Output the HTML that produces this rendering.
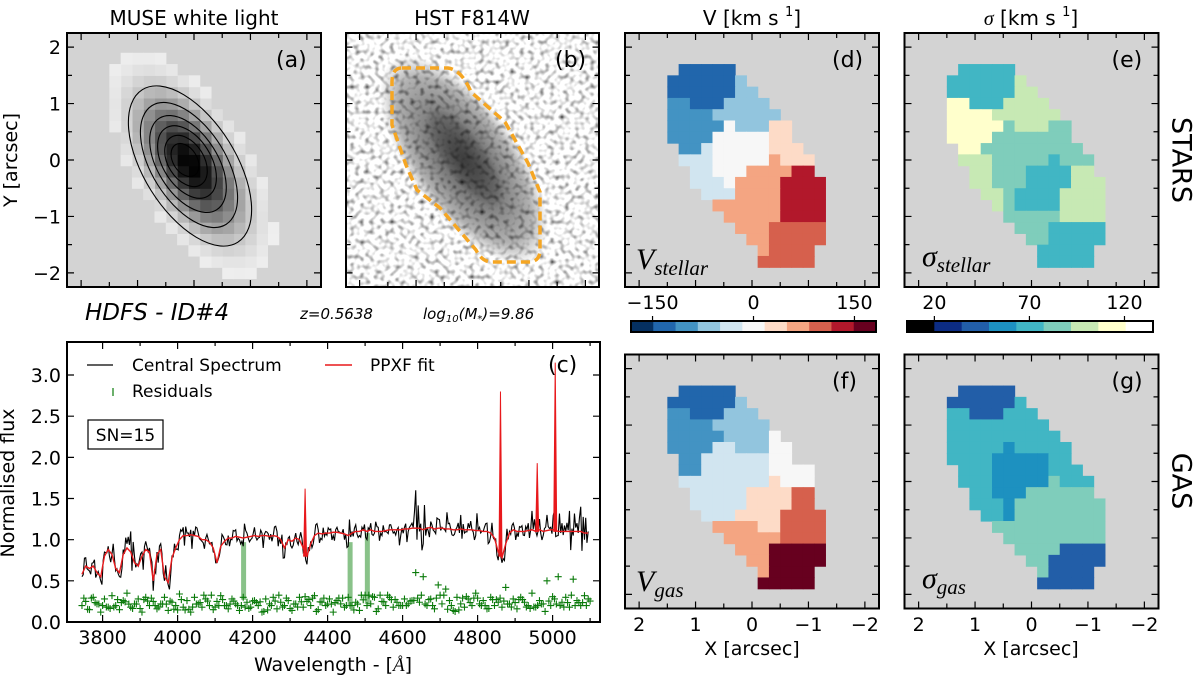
<!DOCTYPE html>
<html><head><meta charset="utf-8"><title>HDFS ID#4 kinematics</title>
<style>
html,body{margin:0;padding:0;background:#fff;}
svg{display:block;font-family:"DejaVu Sans","Liberation Sans",sans-serif;}
</style></head>
<body>
<svg id="fig" width="1200" height="680" viewBox="0 0 1200 680" xmlns="http://www.w3.org/2000/svg">
<defs>
  <filter id="hstnoise" x="0" y="0" width="1" height="1">
    <feTurbulence type="fractalNoise" baseFrequency="0.2" numOctaves="1" seed="7"/>
    <feColorMatrix type="matrix" values="2.4 0 0 0 -0.3  2.4 0 0 0 -0.3  2.4 0 0 0 -0.3  0 0 0 0 1"/>
  </filter>
  <radialGradient id="galgrad" cx="0.5" cy="0.5" r="0.5">
    <stop offset="0" stop-color="#000" stop-opacity="0.65"/>
    <stop offset="0.45" stop-color="#000" stop-opacity="0.5"/>
    <stop offset="0.8" stop-color="#000" stop-opacity="0.3"/>
    <stop offset="1" stop-color="#000" stop-opacity="0"/>
  </radialGradient>
  <clipPath id="clipB"><rect x="346" y="33" width="253" height="254"/></clipPath>
  <clipPath id="clipC"><rect x="67" y="342" width="533" height="280"/></clipPath>
</defs>

<text x="194" y="25" font-size="20" text-anchor="middle">MUSE white light</text>
<text x="472" y="25" font-size="20" text-anchor="middle">HST F814W</text>
<text x="752" y="25" font-size="20" text-anchor="middle">V [km s  <tspan font-size="13" dy="-9">1</tspan><tspan dy="9">]</tspan></text>
<text x="1031" y="25" font-size="20" text-anchor="middle"><tspan font-family="Liberation Serif,serif" font-style="italic">σ</tspan> [km s  <tspan font-size="13" dy="-9">1</tspan><tspan dy="9">]</tspan></text>
<text x="17" y="160" font-size="19" text-anchor="middle" transform="rotate(-90 17 160)">Y [arcsec]</text>
<text x="85" y="320" font-size="23" font-style="italic">HDFS - ID#4</text>
<text x="300" y="319" font-size="15" font-style="italic">z=0.5638</text>
<text x="423" y="319" font-size="15" font-style="italic">log<tspan font-size="10" dy="3">10</tspan><tspan dy="-3">(M</tspan><tspan font-size="10" dy="3">*</tspan><tspan dy="-3">)=9.86</tspan></text>
<text x="1180" y="160" font-size="27" text-anchor="middle" transform="rotate(90 1180 160)" dominant-baseline="middle">STARS</text>
<text x="1180" y="481" font-size="27" text-anchor="middle" transform="rotate(90 1180 481)" dominant-baseline="middle">GAS</text>
<text x="14" y="483" font-size="19" text-anchor="middle" transform="rotate(-90 14 483)">Normalised flux</text>
<text x="333" y="671" font-size="19" text-anchor="middle">Wavelength - [<tspan font-family="Liberation Serif,serif" font-style="italic">Å</tspan>]</text>
<text x="752" y="655" font-size="19" text-anchor="middle">X [arcsec]</text>
<text x="1031" y="655" font-size="19" text-anchor="middle">X [arcsec]</text>
<g id="layer"></g>
</svg>
<script>
// ---------- data ----------
const waveStart = 3745, waveStep = 10;
const specFlux = [0.55,0.78,0.62,0.72,0.58,0.5,0.85,0.92,0.82,0.62,0.55,0.88,0.95,1.1,0.8,0.68,0.85,0.98,0.9,0.38,0.85,0.95,0.5,0.45,0.8,0.88,1.05,1.15,1.08,1.12,1.05,1.08,0.98,1.02,0.95,0.85,0.72,0.9,1.0,1.05,1.0,1.12,1.0,0.92,1.08,1.0,1.15,1.02,1.08,1.1,1.0,1.05,1.1,0.95,0.78,1.02,0.9,1.08,1.02,0.85,0.7,0.98,1.05,1.12,1.0,1.08,1.12,1.05,1.15,1.08,1.0,0.92,1.1,1.18,1.05,1.12,1.0,1.2,1.08,1.15,1.05,1.1,1.18,1.08,1.12,1.05,1.15,1.1,1.2,1.6,1.1,0.95,1.15,1.22,1.1,1.25,1.15,1.1,1.2,1.05,1.15,1.3,1.08,1.2,1.12,1.05,1.15,1.1,1.2,1.05,1.0,0.75,0.72,0.95,1.1,1.2,1.08,1.15,1.05,1.2,1.35,1.1,1.25,1.05,1.3,1.15,1.35,1.05,1.2,1.1,1.35,1.05,1.2,1.4,1.0,1.1];
const fitFlux = [0.58,0.68,0.65,0.68,0.6,0.55,0.8,0.88,0.82,0.65,0.6,0.82,0.9,0.85,0.72,0.68,0.8,0.88,0.85,0.5,0.82,0.88,0.55,0.48,0.78,0.9,1.0,1.05,1.05,1.06,1.05,1.04,1.0,1.0,0.97,0.9,0.72,0.92,0.98,1.02,1.02,1.04,1.03,1.02,1.03,1.04,1.05,1.04,1.05,1.05,1.04,1.05,1.04,1.0,0.9,1.0,0.98,1.02,1.0,0.9,0.8,0.95,1.05,1.08,1.07,1.08,1.08,1.09,1.09,1.08,1.07,1.05,1.08,1.1,1.1,1.12,1.1,1.12,1.1,1.1,1.1,1.11,1.12,1.12,1.12,1.12,1.13,1.13,1.14,1.14,1.14,1.12,1.14,1.15,1.13,1.14,1.14,1.13,1.13,1.12,1.12,1.13,1.12,1.12,1.12,1.11,1.11,1.1,1.1,1.08,1.02,0.85,0.78,0.95,1.08,1.12,1.1,1.1,1.1,1.11,1.12,1.1,1.12,1.1,1.11,1.12,1.12,1.1,1.1,1.1,1.1,1.1,1.1,1.1,1.08,1.08];
const residuals = [0.2,0.25,0.15,0.3,0.22,0.12,0.28,0.18,0.32,0.2,0.15,0.26,0.35,0.18,0.22,0.28,0.12,0.3,0.2,0.25,0.16,0.22,0.3,0.14,0.24,0.2,0.34,0.18,0.26,0.12,0.3,0.22,0.18,0.28,0.2,0.15,0.25,0.32,0.2,0.16,0.28,0.22,0.14,0.3,0.24,0.18,0.26,0.2,0.12,0.28,0.22,0.3,0.16,0.24,0.2,0.26,0.14,0.22,0.3,0.18,0.25,0.2,0.32,0.15,0.24,0.2,0.28,0.12,0.26,0.22,0.18,0.3,0.2,0.24,0.14,0.27,0.2,0.22,0.3,0.16,0.25,0.2,0.3,0.18,0.24,0.2,0.28,0.22,0.26,0.6,0.24,0.55,0.2,0.28,0.16,0.45,0.22,0.4,0.26,0.14,0.3,0.22,0.18,0.28,0.2,0.35,0.22,0.26,0.16,0.3,0.2,0.24,0.18,0.42,0.22,0.28,0.16,0.3,0.24,0.2,0.35,0.18,0.26,0.22,0.5,0.2,0.28,0.55,0.24,0.3,0.18,0.52,0.26,0.2,0.32,0.28];
const emissionWave = [4340, 4861, 4959, 5007];
const emissionPeak = [1.62, 2.8, 1.93, 3.15];
const emissionBase = [0.8, 0.8, 1.1, 1.1];
const maskedWave = [4176, 4460, 4506];
const maskedTop = [0.97, 0.97, 1.08];
const maskedBottom = [0.27, 0.2, 0.22];
const xTickLabels = [3800,4000,4200,4400,4600,4800,5000];
const yTickLabels = [0.0,0.5,1.0,1.5,2.0,2.5,3.0];
const velTickLabels = [-150, 0, 150];
const sigTickLabels = [20, 70, 120];
const velColors = ['#053061','#2166ac','#4393c3','#92c5de','#d1e5f0','#f7f7f7','#fddbc7','#f4a582','#d6604d','#b2182b','#67001f'];
const sigColors = ['#000000','#0c2c84','#225ea8','#1d91c0','#41b6c4','#7fcdbb','#c7e9b4','#ffffcc','#ffffff'];
const velCode = {A:1,B:2,C:3,D:4,W:5,P:6,S:7,R:8,K:9,M:10};
const sigCode = {A:2,U:3,T:4,G:5,L:6,Y:7};
const stellarVelGrid = [".AAAAA........","AAAAAAC.......","AAAAAACC......","BBAAACCCC.....","BBBBCCCCCC....","BBBBBWCCCPP...","BBBBWWWWWPP...",".BBDWWWWWPPP..",".DDDWWWWWSPPP.","..DDWWWSSSSKK.","..DDDWSSSSKKKK","...DDDSSSSKKKK","....SSSSSSKKKK",".....SSSSSKKKK","......SSSRRRRR",".......SSRRRRR","........SRRRR.","........RRRRR."];
const gasVelGrid = [".AAAAA........","AAAAAAC.......","BBAAACCC......","BBBBCCCCC.....","BBBBBCCCCW....","BBBBDDCCCWW...",".BBDDDDDDWW...",".BBDDDDDDWWWW.",".DDDDDDDDPWWW.","..DDDDDPPPPRR.","..DDDDDPPPPRR.","...DDDPPPPRRRR","....SSSSPPRRRR",".....SSSSSRRRR","......SSSMMMMM",".......SSMMMMM","........SMMMM.","........MMMMM."];
const stellarSigGrid = [".TTTTT........","TTTTTTL.......","TTTTTTLL......","YYTTTLLLL.....","YYYYLLLLLL....","YYYYYGLLLGG...","YYYYGGGGGGG...",".YYGGGGGGGGG..",".LLLGGGGGTGGG.","..LLGGGTTTTLL.","..LLGGGTTTTLLL","...LLGTTTTLLLL","....LGTTTTLLLL",".....GGGGGLLLL","......GGGTTTTT",".......GGTTTTT","........TTTTT.","........TTTTT."];
const gasSigGrid = [".AAAAA........","AAAAAAT.......","TTAAATTT......","TTTTTTTTT.....","TTTTTTTTTT....","TTTTTUTTTTT...","TTTTUUUUUTT...",".TTTUUUUUTTT..",".TTTUUUUUGTTT.","..TTUUUGGGGGG.","..TTTUGGGGGGGG","...TTUGGGGGGGG","....GGGGGGGGGG",".....GGGGGGGGG","......GGGGAAAA",".......GGAAAAA","........GAAAA.","........AAAAA."];

// ---------- helpers ----------
const NS = 'http://www.w3.org/2000/svg';
const root = document.getElementById('layer');
function mk(tag, attrs, parent){
  const e = document.createElementNS(NS, tag);
  for (const k in attrs) e.setAttribute(k, attrs[k]);
  (parent || root).appendChild(e);
  return e;
}
const S = 56.44;
const TF = 19;

function panelTicks(cx, cy, g){
  for (let v = -2; v <= 2.001; v += 0.5){
    const len = Number.isInteger(v) ? 7 : 5;
    const px = cx - v*S, py = cy - v*S;
    const t1 = mk('path', {d:`M${px},${cy+127}v${-len}M${px},${cy-127}v${len}M${cx-127},${py}h${len}M${cx+127},${py}h${-len}`, stroke:'#000','stroke-width':1.2, fill:'none'}, g);
    
    
  }
}
function frame(x, y, w, h, g, name){
  const r = mk('rect', {x:x, y:y, width:w, height:h, fill:'none', stroke:'#000','stroke-width':2}, g);
  
  
}
function label(x, y, txt, g, name, size){
  const t = mk('text', {x:x, y:y, 'font-size':size||20}, g);
  t.textContent = txt;
  
  
  return t;
}

function mapPanel(cx, cy, grid, codes, colors, name, letter){
  const g = mk('g', {});
  
  
  const bg = mk('rect', {x:cx-127, y:cy-127, width:254, height:254, fill:'#d3d3d3'}, g);
  
  
  const c = 0.2*S;
  grid.forEach((row, j) => {
    for (let i = 0; i < row.length; i++){
      const ch = row[i];
      if (ch === '.') continue;
      const xa = 1.4 - 0.2*i, ya = 1.6 - 0.2*j;
      const r = mk('rect', {x:(cx - xa*S - c/2).toFixed(2), y:(cy - ya*S - c/2).toFixed(2), width:(c+0.6).toFixed(2), height:(c+0.6).toFixed(2), fill:colors[codes[ch]]}, g);
      
      
    }
  });
  panelTicks(cx, cy, g);
  frame(cx-127, cy-127, 254, 254, g, 'panel-frame');
  label(cx+80, cy-93, letter, g, 'panel-letter', 22);
  return g;
}

// ---------- panel (a) ----------
(function(){
  const cx = 194, cy = 160;
  const g = mk('g', {});
  
  
  const bg = mk('rect', {x:67, y:33, width:254, height:254, fill:'#d3d3d3'}, g);
  
  
  const th = 58*Math.PI/180, co = Math.cos(th), si = Math.sin(th);
  const gx = 190, gy = 164;
  for (let k = -11; k <= 11; k++){
    for (let m = -11; m <= 11; m++){
      const px = cx - k*0.2*S, py = cy - m*0.2*S;
      const dx = px - gx, dy = py - gy;
      const u = (dx*co + dy*si)/S, v = (-dx*si + dy*co)/S;
      if ((u*u)/(2.3*2.3) + (v*v)/(1.0*1.0) > 1) continue;
      const I = Math.exp(-(u*u)/(2*0.8*0.8) - (v*v)/(2*0.38*0.38));
      const gv = Math.round(250*(1 - Math.pow(I, 0.8)));
      const r = mk('rect', {x:(px-0.1*S).toFixed(2), y:(py-0.1*S).toFixed(2), width:(0.2*S+0.6).toFixed(2), height:(0.2*S+0.6).toFixed(2), fill:`rgb(${gv},${gv},${gv})`}, g);
      
      
    }
  }
  const ca = [90,70,54,40,28,18], cb = [46,37,30,24,18,12], ccx=[190,189,188,187,186,185], ccy=[166,165,164,162,161,160];
  for (let n = 0; n < ca.length; n++){
    const e = mk('ellipse', {cx:ccx[n], cy:ccy[n], rx:ca[n], ry:cb[n], fill:'none', stroke:'#000', 'stroke-width':1.1, transform:`rotate(58 ${ccx[n]} ${ccy[n]})`}, g);
    
    
  }
  panelTicks(cx, cy, g);
  frame(67, 33, 254, 254, g, 'panel-frame');
  label(276, 67, '(a)', g, 'panel-letter', 22);
  [2,1,0,-1,-2].forEach(v => {
    const t = mk('text', {x:61, y:cy - v*S + 7, 'font-size':TF, 'text-anchor':'end'}, g);
    t.textContent = v < 0 ? '\u2212' + Math.abs(v) : String(v);
    
    
  });
})();

// ---------- panel (b) ----------
(function(){
  const g = mk('g', {'clip-path':'url(#clipB)'});
  
  
  const n = mk('rect', {x:346, y:33, width:253, height:254, fill:'#bbb', filter:'url(#hstnoise)'}, g);
  
  
  const gal = mk('ellipse', {cx:464, cy:160, rx:122, ry:54, fill:'url(#galgrad)', transform:'rotate(54 464 160)'}, g);
  
  
  const core = mk('ellipse', {cx:465, cy:158, rx:60, ry:22, fill:'url(#galgrad)', transform:'rotate(54 465 158)', opacity:0.5}, g);
  
  
  const p = mk('path', {d:'M402,68 L448,68 Q462,70 471,92 L505,122 L528,163 L540,192 L540,250 Q540,262 528,262 L492,262 Q482,262 476,250 L440,208 L417,190 L406,165 L392,125 L392,82 Q392,68 402,68 Z', fill:'none', stroke:'#f5a623', 'stroke-width':3.5, 'stroke-dasharray':'9 5'}, g);
  
  
  const g2 = mk('g', {});
  
  
  panelTicks(472.5, 160, g2);
  frame(346, 33, 253, 254, g2, 'panel-frame');
  label(555, 67, '(b)', g2, 'panel-letter', 22);
})();

// ---------- maps ----------
mapPanel(752, 160, stellarVelGrid, velCode, velColors, 'stellar-velocity-map', '(d)');
mapPanel(1031.5, 160, stellarSigGrid, sigCode, sigColors, 'stellar-dispersion-map', '(e)');
mapPanel(752, 481.5, gasVelGrid, velCode, velColors, 'gas-velocity-map', '(f)');
mapPanel(1031.5, 481.5, gasSigGrid, sigCode, sigColors, 'gas-dispersion-map', '(g)');

function mathLabel(x, y, main, sub, name){
  const t = mk('text', {x:x, y:y, 'font-family':'Liberation Serif,serif', 'font-style':'italic', 'font-size':30});
  
  
  const a = mk('tspan', {}, t); a.textContent = main;
  const b = mk('tspan', {'font-size':21, dy:6}, t); b.textContent = sub;
}
mathLabel(636, 269, 'V', 'stellar', 'v-stellar-label');
mathLabel(922, 266, '\u03c3', 'stellar', 'sigma-stellar-label');
mathLabel(636, 591, 'V', 'gas', 'v-gas-label');
mathLabel(922, 588, '\u03c3', 'gas', 'sigma-gas-label');

[752, 1031.5].forEach(cx => {
  [2,1,0,-1,-2].forEach(v => {
    const t = mk('text', {x:cx - v*S, y:631, 'font-size':TF, 'text-anchor':'middle'});
    t.textContent = v < 0 ? '\u2212' + Math.abs(v) : String(v);
    
    
  });
});

// ---------- colorbars ----------
function colorbar(x0, x1, colors, vmin, vmax, ticks, name){
  const g = mk('g', {});
  
  
  const w = (x1 - x0)/colors.length;
  colors.forEach((c, i) => {
    const r = mk('rect', {x:(x0 + i*w).toFixed(2), y:321, width:(w+0.5).toFixed(2), height:11, fill:c}, g);
    
    
  });
  frame(x0, 321, x1-x0, 11, g, 'colorbar-frame');
  ticks.forEach(v => {
    const px = x0 + (v - vmin)/(vmax - vmin)*(x1 - x0);
    const tk = mk('line', {x1:px, x2:px, y1:316, y2:321, stroke:'#000', 'stroke-width':1.2}, g);
    
    
    const t = mk('text', {x:px, y:309, 'font-size':TF, 'text-anchor':'middle'}, g);
    t.textContent = v < 0 ? '\u2212' + Math.abs(v) : String(v);
    
    
  });
}
colorbar(631, 876, velColors, -182, 182, velTickLabels, 'velocity-colorbar');
colorbar(907, 1153, sigColors, 5.6, 135, sigTickLabels, 'dispersion-colorbar');

// ---------- spectrum panel (c) ----------
const xs = w => 102.6 + (w - 3800)*0.375;
const ys = f => 622 - f*82.33;
(function(){
  const g = mk('g', {});
  
  
  const bg = mk('rect', {x:67, y:342, width:533, height:280, fill:'#fff'}, g);
  
  
  const pg = mk('g', {'clip-path':'url(#clipC)'}, g);
  
  
  maskedWave.forEach((w, i) => {
    const r = mk('rect', {x:xs(w)-2.5, y:ys(maskedTop[i]), width:5, height:ys(maskedBottom[i]) - ys(maskedTop[i]), fill:'#3a9a3a', opacity:0.6}, pg);
    
    
  });
  residuals.forEach((v, i) => {
    const x = xs(waveStart + i*waveStep), y = ys(v);
    const pm = mk('path', {d:`M${x-3.5},${y}h7M${x},${y-3.5}v7`, stroke:'#0a7a0a', 'stroke-width':1.1}, pg);
    
    
    const r2 = Math.min(residuals[(i*7+3) % residuals.length], 0.34)*0.9 + 0.02;
    const x2 = xs(waveStart + i*waveStep + 5), y2 = ys(r2);
    const pm2 = mk('path', {d:`M${x2-3.5},${y2}h7M${x2},${y2-3.5}v7`, stroke:'#0a7a0a', 'stroke-width':1.1}, pg);
    
    
  });
  // black spectrum with intermediate noisy samples
  let d = '';
  specFlux.forEach((f, i) => {
    const w = waveStart + i*waveStep;
    d += (i ? 'L' : 'M') + xs(w).toFixed(2) + ',' + ys(f).toFixed(2);
    if (i < specFlux.length - 1){
      const fit = fitFlux[i];
      const r = Math.min(residuals[i], 0.36);
      const mid = fit - (f - fit)*0.7 + (r - 0.22)*1.3;
      d += 'L' + xs(w + 3.3).toFixed(2) + ',' + ys(mid).toFixed(2);
      const mid2 = (f + specFlux[i+1])/2 + (0.22 - Math.min(residuals[(i+5) % residuals.length],0.36))*1.1;
      d += 'L' + xs(w + 6.6).toFixed(2) + ',' + ys(mid2).toFixed(2);
    }
  });
  const sp = mk('path', {d:d, fill:'none', stroke:'#000', 'stroke-width':1.1}, pg);
  
  
  let d2 = '';
  fitFlux.forEach((f, i) => { d2 += (i ? 'L' : 'M') + xs(waveStart + i*waveStep).toFixed(2) + ',' + ys(f).toFixed(2); });
  const fp = mk('path', {d:d2, fill:'none', stroke:'#e8191c', 'stroke-width':1.4}, pg);
  
  
  emissionWave.forEach((w, i) => {
    const x = xs(w), base = ys(emissionBase[i]), top = ys(emissionPeak[i]);
    const e = mk('path', {d:`M${x-1.5},${base}L${x},${top}L${x+1.5},${base}Z`, fill:'#e8191c', stroke:'#e8191c', 'stroke-width':1}, pg);
    
    
  });
  for (let w = 3800; w <= 5100; w += 100){
    const len = (w % 200 === 0) ? 7 : 4;
    const t = mk('path', {d:`M${xs(w)},622v${-len}M${xs(w)},342v${len}`, stroke:'#000', 'stroke-width':1.2}, g);
    
    
  }
  xTickLabels.forEach(w => {
    const t = mk('text', {x:xs(w), y:644, 'font-size':TF, 'text-anchor':'middle'}, g);
    t.textContent = String(w);
    
    
  });
  yTickLabels.forEach(v => {
    const t1 = mk('path', {d:`M67,${ys(v)}h7M600,${ys(v)}h-7`, stroke:'#000', 'stroke-width':1.2}, g);
    
    
    const t = mk('text', {x:61, y:ys(v)+7, 'font-size':TF, 'text-anchor':'end'}, g);
    t.textContent = v.toFixed(1);
    
    
  });
  frame(67, 342, 533, 280, g, 'spectrum-frame');
  const lg = mk('g', {}, g);
  
  
  const l1 = mk('line', {x1:87, x2:113, y1:365, y2:365, stroke:'#000', 'stroke-width':1.2}, lg);
  
  
  label(132, 371, 'Central Spectrum', lg, 'legend-entry-spectrum', 17);
  const l2 = mk('line', {x1:325, x2:352, y1:365, y2:365, stroke:'#e8191c', 'stroke-width':1.4}, lg);
  
  
  label(370, 371, 'PPXF fit', lg, 'legend-entry-fit', 17);
  const l3 = mk('line', {x1:113, x2:113, y1:388, y2:396, stroke:'#0a7a0a', 'stroke-width':1.2}, lg);
  
  
  label(132, 397, 'Residuals', lg, 'legend-entry-residuals', 17);
  label(548, 372, '(c)', g, 'panel-letter', 22);
  const box = mk('rect', {x:88, y:420, width:75, height:29, fill:'#fff', stroke:'#000', 'stroke-width':1.2}, g);
  
  
  const sn = label(125.5, 441, 'SN=15', g, 'sn-label', 17);
  sn.setAttribute('text-anchor','middle');
})();
</script>
</body></html>
